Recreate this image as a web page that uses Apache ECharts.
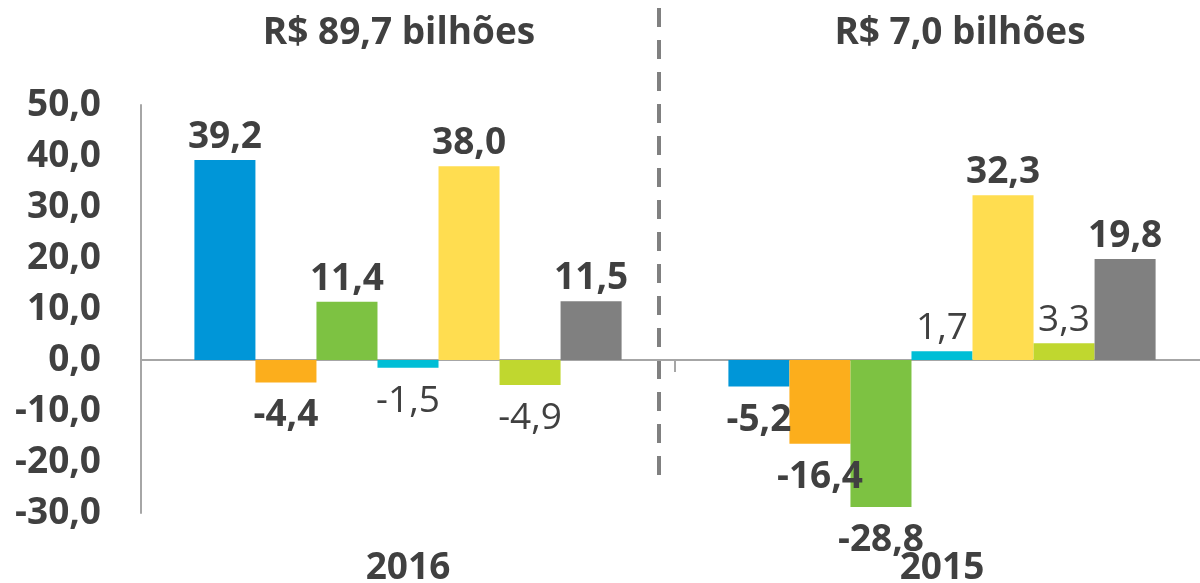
<!DOCTYPE html>
<html>
<head>
<meta charset="utf-8">
<script src="https://cdn.jsdelivr.net/npm/echarts@6/dist/echarts.min.js"></script>
<style>
  html, body { margin: 0; padding: 0; background: #fff; }
  #chart { width: 1200px; height: 583px; }
</style>
</head>
<body>
<div id="chart"></div>
<script>
// categorias e valores
const categories = ['2016', '2015'];
const titles = ['R$ 89,7 bilhões', 'R$ 7,0 bilhões'];
const serie1 = [39.2, -5.2];
const serie2 = [-4.4, -16.4];
const serie3 = [11.4, -28.8];
const serie4 = [-1.5, 1.7];
const serie5 = [38.0, 32.3];
const serie6 = [-4.9, 3.3];
const serie7 = [11.5, 19.8];
const yTicks = { min: -30, max: 50, interval: 10 };

const allSeries = [serie1, serie2, serie3, serie4, serie5, serie6, serie7];
const colors = ['#0096d8', '#fcae1c', '#7dc242', '#00bed6', '#ffdd50', '#c0d72f', '#808080'];
const weights = ['bold', 'bold', 'bold', 'normal', 'bold', 'normal', 'bold'];
const textColor = '#404040';
const fontFamily = '"Open Sans", sans-serif';
const fontSize = 37;

const fmt = (v) => Number(v).toFixed(1).replace('.', ',');

const chart = echarts.init(document.getElementById('chart'));

const series = allSeries.map((vals, idx) => ({
  name: 'Série ' + (idx + 1),
  type: 'bar',
  barGap: 0,
  barCategoryGap: '20%',
  xAxisIndex: 0,
  itemStyle: { color: colors[idx] },
  label: {
    show: true,
    color: textColor,
    fontFamily: fontFamily,
    fontSize: fontSize,
    fontWeight: weights[idx],
    formatter: (p) => fmt(p.value),
  },
  data: vals.map((v) => ({
    value: v,
    label: v < 0 ? { position: 'bottom', distance: 15 } : { position: 'top', distance: 4 },
  })),
}));

const titleStyle = { color: textColor, fontFamily: fontFamily, fontSize: fontSize, fontWeight: 'bold' };

chart.setOption({
  animation: false,
  title: [
    { text: titles[0], left: 394, top: 10, textAlign: 'center', textStyle: titleStyle },
    { text: titles[1], left: 955, top: 10, textAlign: 'center', textStyle: titleStyle },
  ],
  grid: {
    left: 141,
    width: 1068,
    top: 105,
    bottom: 70,
    containLabel: false,
    outerBoundsMode: 'none',
  },
  xAxis: [
    {
      type: 'category',
      data: categories,
      axisLine: { onZero: true, lineStyle: { color: '#a6a6a6', width: 2 } },
      axisTick: { show: true, length: 12, lineStyle: { color: '#a6a6a6', width: 2 } },
      axisLabel: { show: false },
    },
    {
      type: 'category',
      data: categories,
      position: 'bottom',
      axisLine: { show: false },
      axisTick: { show: false },
      axisLabel: {
        show: true,
        margin: 37,
        color: textColor,
        fontFamily: fontFamily,
        fontSize: fontSize,
        fontWeight: 'bold',
      },
    },
  ],
  yAxis: {
    type: 'value',
    min: yTicks.min,
    max: yTicks.max,
    interval: yTicks.interval,
    splitLine: { show: false },
    axisTick: { show: false },
    axisLine: { show: true, lineStyle: { color: '#a6a6a6', width: 2 } },
    axisLabel: {
      margin: 40,
      color: textColor,
      fontFamily: fontFamily,
      fontSize: fontSize,
      fontWeight: 'bold',
      formatter: fmt,
    },
  },
  graphic: [
    {
      type: 'line',
      shape: { x1: 659, y1: 8, x2: 659, y2: 485 },
      style: { stroke: '#808080', lineWidth: 4, lineDash: [19, 13] },
    },
  ],
  series: series,
});
</script>
</body>
</html>
